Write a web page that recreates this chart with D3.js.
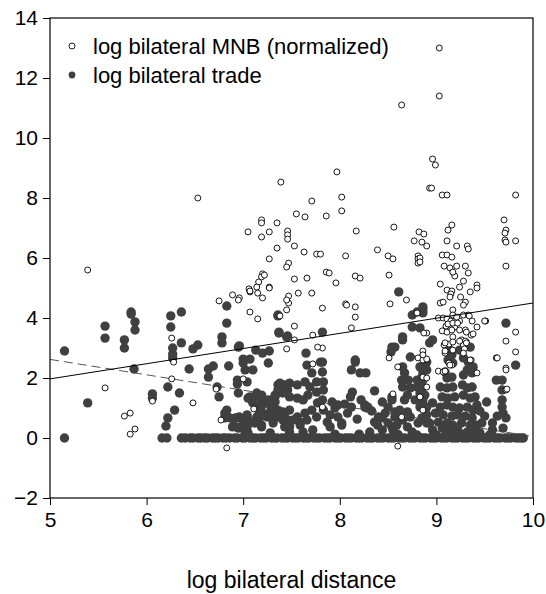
<!DOCTYPE html>
<html>
<head>
<meta charset="utf-8">
<style>
  body { margin: 0; background: #fff; }
  svg { display: block; }
  text { font-family: "Liberation Sans", Arial, Helvetica, sans-serif; fill: #000; }
</style>
</head>
<body>
<div id="chart"></div>
<script src="https://d3js.org/d3.v7.min.js"></script>
<script>
// ---- data ----
const xTicks = [5, 6, 7, 8, 9, 10];
const yTicks = [-2, 0, 2, 4, 6, 8, 10, 12, 14];
const legendLabels = ["log bilateral MNB (normalized)", "log bilateral trade"];
const xTitle = "log bilateral distance";

// log bilateral MNB (normalized): [log distance, value]
const mnbPoints = [
  [5.39,5.6],[6.53,8.0],[7.39,8.53],[7.19,7.27],[7.19,7.17],[7.35,7.17],[7.05,6.87],[7.27,6.87],[7.19,6.7],[7.35,6.33],
  [7.27,5.97],[7.2,5.47],[7.19,5.37],[7.16,5.2],[7.14,5.03],[7.27,5.03],[7.06,4.97],[7.71,7.9],[7.55,7.47],[7.64,7.37],
  [7.46,6.9],[7.46,6.77],[7.46,6.63],[7.53,6.4],[7.63,6.2],[7.76,6.13],[7.47,5.83],[7.45,5.7],[7.53,5.3],[7.66,5.33],
  [7.22,5.43],[7.07,4.87],[6.89,4.77],[6.96,4.67],[7.2,4.67],[7.47,4.73],[7.57,4.83],[7.71,4.83],[7.97,8.87],[8.02,8.03],
  [8.02,7.57],[7.86,7.4],[8.17,6.9],[8.56,7.03],[8.82,6.87],[8.87,6.8],[8.77,6.57],[8.85,6.53],[8.9,6.4],[8.39,6.27],
  [8.06,6.07],[8.5,6.07],[8.55,5.97],[8.81,6.07],[8.81,5.97],[8.81,5.83],[7.86,5.53],[7.89,5.5],[7.96,5.17],[8.16,5.4],
  [8.21,5.33],[8.51,5.43],[7.8,6.13],[8.69,4.6],[8.93,8.33],[9.03,13.0],[9.03,11.4],[8.64,11.1],[8.96,9.3],[8.99,9.1],
  [8.95,8.33],[9.06,8.1],[9.11,8.1],[9.82,8.1],[9.7,7.27],[9.72,6.93],[9.71,6.83],[9.82,6.57],[9.71,6.6],[9.12,6.93],
  [9.16,7.1],[9.11,6.57],[9.21,6.4],[9.32,6.4],[9.72,6.53],[9.72,5.73],[8.83,6.0],[8.83,5.87],[9.33,6.3],[9.06,6.1],
  [9.11,6.1],[9.16,6.03],[9.08,5.73],[9.14,5.67],[9.21,5.73],[9.3,5.73],[9.19,5.4],[9.33,5.5],[9.28,5.23],[9.04,5.13],
  [9.24,5.03],[9.42,5.1],[9.42,5.0],[9.35,4.87],[9.11,4.93],[9.16,4.9],[9.15,4.8],[9.14,4.7],[9.25,4.7],[9.17,5.53],
  [7.47,4.5],[7.45,4.27],[7.38,4.07],[7.82,4.33],[8.06,4.47],[8.16,4.37],[8.16,4.03],[8.12,3.67],[9.04,4.5],[9.07,4.53],
  [9.3,4.53],[9.28,4.43],[9.17,4.27],[9.02,4.0],[9.07,4.0],[9.11,3.97],[9.15,3.9],[9.2,3.93],[9.24,3.9],[9.28,4.1],
  [9.33,4.1],[9.37,3.9],[9.51,3.9],[9.1,3.73],[9.19,3.7],[9.06,3.57],[9.11,3.53],[9.16,3.6],[9.24,3.6],[9.3,3.6],
  [9.17,3.37],[9.26,3.27],[9.3,3.23],[9.08,3.1],[9.13,3.13],[9.28,3.1],[9.29,2.97],[9.09,2.83],[9.13,2.5],[9.16,2.43],
  [9.36,2.6],[9.28,2.83],[9.42,2.17],[9.02,2.23],[9.07,2.2],[8.86,2.9],[8.89,2.63],[8.85,2.7],[8.81,2.67],[8.9,3.5],
  [8.87,3.5],[8.8,4.17],[9.82,3.53],[9.72,3.23],[9.82,2.87],[9.62,2.67],[9.72,2.33],[9.72,1.6],[8.6,2.37],[8.51,2.67],
  [8.55,1.47],[8.6,-0.27],[8.83,1.37],[8.9,1.7],[8.86,0.93],[8.86,2.03],[8.9,2.0],[7.72,3.43],[7.82,3.0],[7.53,3.27],
  [7.45,2.97],[7.53,3.73],[7.72,2.47],[7.82,1.03],[8.52,4.47],[8.07,4.43],[7.77,3.03],[5.57,1.67],[5.77,0.73],[5.83,0.83],
  [5.83,0.13],[5.88,0.3],[6.06,1.23],[6.26,3.33],[6.28,2.53],[6.26,1.97],[6.48,1.17],[6.72,1.63],[6.77,0.6],[6.83,-0.33],
  [6.75,4.57],[7.07,4.9],[7.15,4.83],[7.27,5.0],[7.07,4.2],[7.15,3.97],[7.0,1.97],[7.11,0.97],[7.45,4.6],[6.95,4.6],
  [8.64,0.7],[9.17,4.1],[9.21,4.03],[9.34,4.07],[9.12,3.8],[9.17,3.83],[9.22,3.83],[9.42,3.7],[9.5,3.9],[9.31,3.53],
  [9.36,3.43],[9.38,3.47],[9.09,3.17],[9.17,3.2],[9.24,3.23],[9.31,3.17],[9.09,2.9],[9.17,2.93],[9.14,2.43],[9.35,2.6],
  [9.09,2.23],[8.86,2.6],[8.9,2.63],[8.86,2.77],[9.73,1.63],[9.63,2.67],[9.72,2.27]
];

// log bilateral trade, points above zero: [log distance, value]
const tradePoints = [
  [5.15,2.9],[5.39,1.17],[5.57,3.73],[5.57,3.33],[5.77,3.27],[5.77,3.0],[5.84,4.2],[5.84,4.13],[5.88,3.87],[5.88,3.6],
  [5.87,2.3],[6.06,1.47],[6.06,1.33],[6.22,1.7],[6.34,1.5],[6.29,0.93],[6.22,0.67],[6.2,0.4],[6.25,4.07],[6.25,3.7],
  [6.36,4.2],[6.27,3.0],[6.27,2.8],[6.27,2.67],[6.36,3.17],[6.48,2.97],[6.53,3.1],[6.44,2.3],[6.64,2.3],[6.64,2.03],
  [6.69,2.4],[6.85,2.4],[6.78,3.37],[6.78,3.17],[6.83,4.4],[6.83,3.83],[6.96,3.07],[6.75,1.37],[6.73,1.7],[6.94,1.93],
  [6.94,1.8],[7.04,1.87],[7.0,2.63],[7.07,2.63],[7.0,2.5],[7.1,2.27],[7.02,2.27],[7.13,2.93],[7.2,2.83],[7.27,2.9],
  [7.26,2.5],[7.36,4.07],[7.37,3.5],[7.45,3.37],[6.81,0.83],[6.81,0.67],[6.92,0.67],[6.96,0.7],[6.9,0.4],[6.97,0.37],
  [7.04,0.37],[7.04,0.7],[7.14,0.7],[7.12,0.5],[7.19,0.37],[7.05,0.17],[7.07,1.37],[7.14,1.43],[7.19,1.27],[7.1,1.17],
  [7.17,1.03],[7.28,1.1],[7.33,1.2],[7.28,0.87],[7.35,0.7],[7.41,0.87],[7.46,0.6],[7.43,0.37],[7.31,0.5],[7.25,0.7],
  [7.17,0.87],[7.36,1.77],[7.43,1.77],[7.46,1.6],[7.33,1.43],[7.36,4.1],[7.37,3.53],[7.46,3.4],[6.95,3.03],[7.65,2.83],
  [6.95,1.5],[7.38,1.83],[7.45,1.7],[7.48,1.83],[7.56,1.77],[7.64,1.87],[7.69,1.7],[7.76,1.87],[7.76,1.53],[7.67,1.43],
  [7.62,1.27],[7.56,1.33],[7.48,1.37],[7.41,1.5],[7.36,1.6],[7.33,1.37],[7.26,1.27],[7.2,1.1],[7.14,1.03],[7.09,1.27],
  [7.05,1.33],[7.14,1.5],[7.19,1.43],[7.3,1.03],[7.36,0.93],[7.43,0.83],[7.48,0.93],[7.56,0.7],[7.64,0.83],[7.71,0.93],
  [7.77,1.17],[7.76,0.7],[7.66,0.6],[7.59,0.43],[7.48,0.37],[7.41,0.6],[7.33,0.77],[7.28,0.7],[7.2,0.83],[7.17,0.67],
  [7.19,0.43],[7.1,0.53],[7.04,0.43],[7.0,0.6],[6.94,0.67],[6.89,0.37],[6.95,0.33],[6.83,0.93],[6.81,0.7],[6.86,0.67],
  [7.04,0.77],[7.02,0.2],[7.28,0.17],[7.48,0.2],[7.62,0.2],[7.72,0.27],[7.82,3.53],[7.82,2.53],[7.82,2.2],[7.83,1.87],
  [7.83,1.6],[7.82,1.27],[8.16,2.53],[8.12,2.27],[8.27,2.17],[8.13,1.53],[8.11,1.37],[8.36,1.57],[7.92,1.2],[7.98,1.1],
  [8.05,1.13],[7.95,1.0],[8.26,1.03],[8.28,1.0],[8.44,1.2],[8.54,1.37],[8.54,1.27],[8.5,1.03],[8.47,0.83],[8.44,0.67],
  [8.4,0.7],[8.57,0.87],[8.62,0.93],[8.7,0.87],[8.73,0.7],[8.65,0.6],[8.59,0.43],[8.54,0.37],[8.39,0.43],[8.31,0.2],
  [8.7,0.37],[8.75,0.2],[8.81,0.5],[8.85,0.67],[8.9,0.5],[8.83,1.03],[8.86,1.27],[7.87,0.53],[7.9,0.37],[8.02,0.43],
  [7.83,0.93],[7.9,0.77],[8.54,3.03],[8.53,2.87],[8.57,3.03],[8.65,3.37],[8.65,3.27],[8.73,2.7],[8.65,2.37],[8.67,2.17],
  [8.64,1.93],[8.71,1.93],[8.65,1.7],[8.73,1.67],[8.7,1.43],[8.8,1.7],[8.83,1.5],[8.78,1.27],[8.67,1.27],[8.8,1.93],
  [8.86,2.2],[8.83,2.37],[8.9,2.27],[8.75,4.1],[8.8,4.2],[8.86,4.17],[8.75,3.7],[8.83,3.67],[8.9,2.53],[8.86,1.93],
  [8.86,4.27],[9.72,3.83],[9.82,2.43],[9.62,1.93],[9.68,1.93],[9.68,1.6],[9.68,1.27],[9.68,1.03],[9.69,0.83],[9.72,0.67],
  [9.69,0.33],[9.5,0.73],[9.42,0.43],[9.14,2.93],[9.16,2.77],[9.12,2.6],[9.17,2.5],[9.28,2.67],[9.33,2.53],[9.38,2.37],
  [9.32,2.27],[9.37,2.17],[9.28,2.1],[9.09,2.2],[9.11,2.0],[9.16,2.03],[9.24,2.93],[9.35,3.03],[9.3,3.17],[9.04,1.7],
  [9.11,1.67],[9.17,1.7],[9.27,1.77],[9.32,1.67],[9.37,1.7],[9.06,1.37],[9.12,1.33],[9.19,1.37],[9.28,1.43],[9.35,1.33],
  [9.4,1.37],[8.9,1.03],[8.96,1.17],[9.04,1.03],[9.11,1.1],[9.17,1.03],[9.24,1.0],[9.32,1.03],[9.38,0.93],[8.9,0.77],
  [8.99,0.83],[9.07,0.77],[9.16,0.73],[9.22,0.77],[9.3,0.73],[9.37,0.67],[8.93,0.5],[9.02,0.53],[9.11,0.5],[9.17,0.43],
  [9.26,0.5],[9.35,0.43],[8.96,0.27],[9.06,0.33],[9.14,0.27],[9.22,0.27],[9.32,0.2],[9.38,0.27],[8.86,2.37],[8.85,2.03],
  [8.86,1.7],[8.88,1.43],[8.85,1.17],[8.93,3.17],[8.96,3.27],[8.61,4.87],[8.86,4.37],[7.66,2.43],[7.71,2.17],[7.8,2.53],
  [8.26,1.1],[8.29,1.03],[8.02,0.5],[8.44,0.27],[8.5,0.5],[8.57,0.7],[8.55,0.27],[7.52,0.6],[7.59,0.53],[7.46,0.37],
  [8.16,2.6],[8.21,2.17],[9.0,0.1],[9.1,0.13],[9.2,0.1],[9.28,0.13],[8.8,0.1],[8.6,0.13],[9.45,0.17],[9.55,0.1],
  [9.58,0.5],[8.2,0.13],[7.95,0.13],[8.08,0.83],[8.18,0.63],[8.33,0.9],[8.12,1.03],[7.98,0.7],[8.22,1.27],[8.36,0.53],
  [9.45,0.9],[9.52,1.2],[9.47,0.5],[9.58,0.27],[9.63,0.73],[9.42,1.1]
];

// log bilateral trade exactly zero: log distance of each pair
const tradeZeroX = [
  5.15, 6.16, 6.21, 6.36, 6.40, 6.45, 6.48, 6.53, 6.56, 6.60, 6.63, 6.68, 6.71, 6.74, 6.79, 6.82, 6.86, 6.91, 6.94,
  6.99, 7.02, 7.07, 7.10, 7.13, 7.18, 7.21, 7.24, 7.29, 7.32, 7.35, 7.40, 7.43, 7.46, 7.51, 7.54, 7.57, 7.62, 7.65,
  7.68, 7.73, 7.76, 7.79, 7.84, 7.87, 7.90, 7.95, 7.98, 8.01, 8.06, 8.09, 8.12, 8.17, 8.20, 8.23, 8.28, 8.31, 8.34,
  8.39, 8.42, 8.45, 8.50, 8.53, 8.56, 8.61, 8.64, 8.67, 8.72, 8.75, 8.78, 8.83, 8.86, 8.89, 8.94, 8.97, 9.00, 9.05,
  9.08, 9.11, 9.16, 9.19, 9.22, 9.27, 9.30, 9.33, 9.38, 9.41, 9.44, 9.49, 9.52, 9.55, 9.60, 9.63, 9.66, 9.71, 9.74,
  9.77, 9.82, 9.85, 9.88, 9.90
];

// fitted lines: [log distance, value] at the two ends
const mnbFit = [[5, 1.97], [10, 4.5]];
const tradeFit = [[5, 2.62], [10, 0.05]];

// ---- chart ----
const width = 546, height = 594;
const plot = { left: 50, right: 533, top: 18, bottom: 498 };
const darkGrey = "#404040";
const fontSize = 21;

const x = d3.scaleLinear().domain([5, 10]).range([plot.left, plot.right]);
const y = d3.scaleLinear().domain([-2, 14]).range([plot.bottom, plot.top]);

const svg = d3.select("#chart").append("svg")
    .attr("width", width)
    .attr("height", height);

// axes
const xAxis = svg.append("g")
    .attr("transform", `translate(0,${plot.bottom})`)
    .call(d3.axisBottom(x).tickValues(xTicks).tickFormat(d3.format("d")).tickSize(7).tickPadding(7));
const yAxis = svg.append("g")
    .attr("transform", `translate(${plot.left},0)`)
    .call(d3.axisLeft(y).tickValues(yTicks).tickFormat(d3.format("d")).tickSize(7).tickPadding(5));

[xAxis, yAxis].forEach(g => {
    g.select(".domain").remove();
    g.selectAll("line").attr("stroke", "#000");
    g.selectAll("text").attr("font-size", fontSize).attr("font-family", '"Liberation Sans", Arial, sans-serif');
});

// clip to plot box
svg.append("clipPath").attr("id", "clip")
  .append("rect")
    .attr("x", plot.left).attr("y", plot.top)
    .attr("width", plot.right - plot.left).attr("height", plot.bottom - plot.top);

const body = svg.append("g").attr("clip-path", "url(#clip)");
const line = d3.line().x(d => x(d[0])).y(d => y(d[1]));

// dashed fit for trade
body.append("path")
    .datum(tradeFit)
    .attr("d", line)
    .attr("fill", "none")
    .attr("stroke", "#555")
    .attr("stroke-width", 1)
    .attr("stroke-dasharray", "9,5");

// filled trade points
const tradeAll = tradePoints.concat(tradeZeroX.map(v => [v, 0]));
body.append("g")
    .selectAll("circle")
    .data(tradeAll)
    .join("circle")
    .attr("cx", d => x(d[0]))
    .attr("cy", d => y(d[1]))
    .attr("r", 4.7)
    .attr("fill", darkGrey);

// open MNB points
body.append("g")
    .selectAll("circle")
    .data(mnbPoints)
    .join("circle")
    .attr("cx", d => x(d[0]))
    .attr("cy", d => y(d[1]))
    .attr("r", 3)
    .attr("fill", "#fff")
    .attr("stroke", "#000")
    .attr("stroke-width", 0.9);

// solid fit for MNB
body.append("path")
    .datum(mnbFit)
    .attr("d", line)
    .attr("fill", "none")
    .attr("stroke", "#000")
    .attr("stroke-width", 1);

// frame
svg.append("rect")
    .attr("x", plot.left).attr("y", plot.top)
    .attr("width", plot.right - plot.left).attr("height", plot.bottom - plot.top)
    .attr("fill", "none")
    .attr("stroke", "#000")
    .attr("stroke-width", 1.2);

// legend
const legend = svg.append("g");
legendLabels.forEach((label, i) => {
    const ly = 46 + i * 29;
    const mark = legend.append("circle")
        .attr("cx", 72).attr("cy", ly);
    if (i === 0) {
        mark.attr("r", 3).attr("fill", "#fff").attr("stroke", "#000").attr("stroke-width", 0.9);
    } else {
        mark.attr("r", 3.4).attr("fill", darkGrey);
    }
    legend.append("text")
        .attr("x", 93).attr("y", ly + 8)
        .attr("font-size", 22)
        .text(label);
});

// x title
svg.append("text")
    .attr("x", (plot.left + plot.right) / 2)
    .attr("y", 588)
    .attr("text-anchor", "middle")
    .attr("font-size", 23)
    .text(xTitle);
</script>
</body>
</html>
